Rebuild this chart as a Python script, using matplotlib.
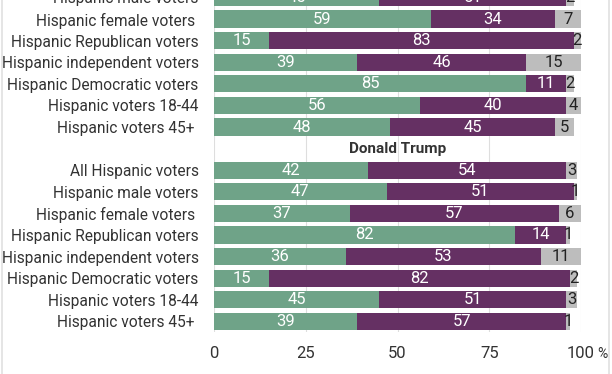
import numpy as np
import matplotlib.pyplot as plt
from matplotlib.lines import Line2D

plt.rcParams['font.family'] = ['Roboto', 'DejaVu Sans']

# rows that are visible in the (cropped) reference, top to bottom
biden_labels = ['Hispanic male voters', 'Hispanic female voters ', 'Hispanic Republican voters',
                'Hispanic independent voters', 'Hispanic Democratic voters',
                'Hispanic voters 18-44', 'Hispanic voters 45+ ']
biden_fav = [45, 59, 15, 39, 85, 56, 48]
biden_unfav = [51, 34, 83, 46, 11, 40, 45]
biden_none = [2, 7, 2, 15, 2, 4, 5]

trump_labels = ['All Hispanic voters', 'Hispanic male voters', 'Hispanic female voters ',
                'Hispanic Republican voters', 'Hispanic independent voters',
                'Hispanic Democratic voters', 'Hispanic voters 18-44', 'Hispanic voters 45+ ']
trump_fav = [42, 47, 37, 82, 36, 15, 45, 39]
trump_unfav = [54, 51, 57, 14, 53, 82, 51, 57]
trump_none = [3, 1, 6, 1, 11, 2, 3, 1]

green = '#6fa388'
purple = '#653063'
grey = '#bdbdbd'

labels = biden_labels + trump_labels
fav = np.array(biden_fav + trump_fav)
unfav = np.array(biden_unfav + trump_unfav)
none = np.array(biden_none + trump_none)
# slot 9 holds the "Donald Trump" heading
ypos = np.array(list(range(2, 9)) + list(range(10, 18)))

fig = plt.figure(figsize=(6.12, 3.74), dpi=100)
# axes top is above the figure edge: the reference is a crop of a taller chart
ax = fig.add_axes([0.3497, 0.1118, 0.5997, 0.924])

ax.barh(ypos, fav, height=0.8, color=green, zorder=2)
ax.barh(ypos, unfav, left=fav, height=0.8, color=purple, zorder=2)
ax.barh(ypos, none, left=fav + unfav, height=0.8, color=grey, zorder=2)

vfs = 12
for y, a, b, c in zip(ypos, fav, unfav, none):
    ax.text(a / 2, y, str(a), ha='center', va='center', color='white', fontsize=vfs, zorder=3)
    ax.text(a + b / 2, y, str(b), ha='center', va='center', color='white', fontsize=vfs, zorder=3)
    ax.text(a + b + c / 2, y, str(c), ha='center', va='center', color='#222222', fontsize=vfs, zorder=3)

ax.text(50, 9.0, 'Donald Trump', ha='center', va='center', fontsize=11,
        fontweight='bold', color='#333333')

ax.set_ylim(17.5, 1.5)
ax.set_xlim(0, 100)
ax.set_yticks(ypos)
ax.set_yticklabels(labels, fontsize=11.2, color='#333333')
ax.set_xticks([0, 25, 50, 75, 100])
ax.set_xticklabels(['0', '25', '50', '75', '100'], fontsize=12, color='#333333')
ax.annotate('%', xy=(100, 0), xycoords=('data', 'axes fraction'), xytext=(12, -10.5),
            textcoords='offset points', ha='left', va='top', fontsize=10, color='#333333')
ax.tick_params(axis='both', length=0)
ax.tick_params(axis='y', pad=11)
ax.tick_params(axis='x', pad=10)
for s in ax.spines.values():
    s.set_visible(False)
ax.xaxis.grid(True, color='#dedede', linewidth=0.8, zorder=0)
ax.set_axisbelow(True)

# light frame on the sides
fig.add_artist(Line2D([0.003, 0.003], [0, 1], color='#e0e0e0', lw=1.2))
fig.add_artist(Line2D([0.995, 0.995], [0, 1], color='#e0e0e0', lw=1.2))

fig.savefig('out.png', dpi=100)
